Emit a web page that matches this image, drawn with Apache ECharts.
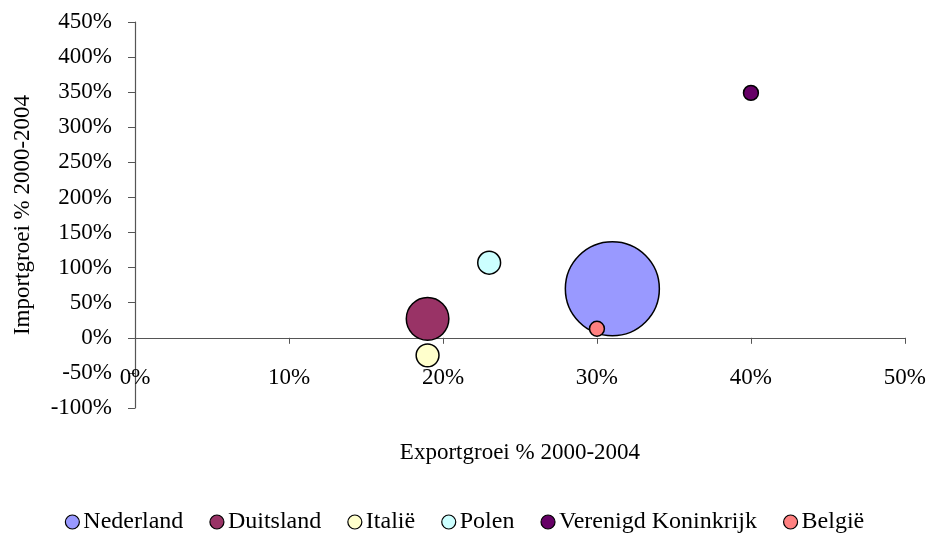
<!DOCTYPE html>
<html>
<head>
<meta charset="utf-8">
<script src="https://cdn.jsdelivr.net/npm/echarts@6/dist/echarts.min.js"></script>
<style>html,body{margin:0;padding:0;background:#fff}#c{width:929px;height:536px}</style>
</head>
<body>
<div id="c"></div>
<script>
const countries = ['Nederland', 'Duitsland', 'Italië', 'Polen', 'Verenigd Koninkrijk', 'België'];
const exportGrowth = [31, 19, 19, 23, 40, 30];
const importGrowth = [70, 27, -25, 107, 349, 13];
const bubbleSize = [100, 20.5, 5.9, 5.9, 2.5, 2.5];
const colors = ['#9999FF', '#993366', '#FFFFCC', '#CCFFFF', '#660066', '#FF8080'];
const xTicks = [0, 10, 20, 30, 40, 50];
const yTicks = [-100, -50, 0, 50, 100, 150, 200, 250, 300, 350, 400, 450];

const FONT = '"Liberation Serif", "Times New Roman", serif';
const maxDiam = 94;

const series = countries.map((name, i) => ({
  name: name,
  type: 'scatter',
  data: [[exportGrowth[i], importGrowth[i], bubbleSize[i]]],
  symbol: 'circle',
  symbolSize: d => maxDiam * Math.sqrt(d[2] / 100),
  itemStyle: { color: colors[i], borderColor: '#000', borderWidth: 1.5, opacity: 1 },
  emphasis: { disabled: true },
  z: 2 + i
}));

const chart = echarts.init(document.getElementById('c'), null, { renderer: 'canvas' });
chart.setOption({
  animation: false,
  backgroundColor: '#fff',
  color: colors,
  textStyle: { fontFamily: FONT },
  grid: { left: 135, right: 24, top: 22, bottom: 128, containLabel: false },
  xAxis: {
    type: 'value',
    min: xTicks[0], max: xTicks[xTicks.length - 1], interval: 10,
    name: 'Exportgroei % 2000-2004',
    nameLocation: 'middle',
    nameGap: 33,
    nameMoveOverlap: false,
    nameTextStyle: { fontFamily: FONT, fontSize: 23, color: '#000' },
    axisLine: { onZero: true, lineStyle: { color: '#555', width: 1.2 } },
    axisTick: { show: true, inside: false, length: 6, lineStyle: { color: '#555' } },
    axisLabel: { formatter: v => v + '%', fontFamily: FONT, fontSize: 23, color: '#000', margin: -42 },
    splitLine: { show: false }
  },
  yAxis: {
    type: 'value',
    min: yTicks[0], max: yTicks[yTicks.length - 1], interval: 50,
    name: 'Importgroei % 2000-2004',
    nameLocation: 'middle',
    nameGap: 101,
    nameTextStyle: { fontFamily: FONT, fontSize: 23, color: '#000' },
    axisLine: { show: true, onZero: false, lineStyle: { color: '#555', width: 1.2 } },
    axisTick: { show: true, inside: false, length: 7, lineStyle: { color: '#555' } },
    axisLabel: { formatter: v => v + '%', fontFamily: FONT, fontSize: 23, color: '#000', margin: 23 },
    splitLine: { show: false }
  },
  legend: {
    top: 505,
    left: 'center',
    itemWidth: 14,
    itemHeight: 14,
    itemGap: 26,
    icon: 'circle',
    textStyle: { fontFamily: FONT, fontSize: 24, color: '#000', padding: [0, 0, 0, -1] },
    itemStyle: { borderColor: '#000', borderWidth: 1.2 },
    data: countries
  },
  series: series
});
</script>
</body>
</html>
